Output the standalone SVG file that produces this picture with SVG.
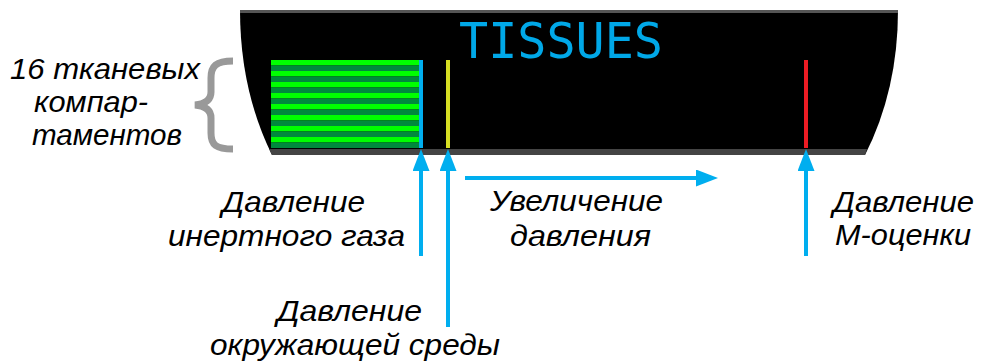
<svg xmlns="http://www.w3.org/2000/svg" width="982" height="363" viewBox="0 0 982 363">
<style>
.lbl{font-family:"Liberation Sans",Arial,sans-serif;font-style:italic;font-size:29px;fill:#000}
.arr{stroke:#00aeef;stroke-width:4;fill:none}
</style>
<defs>
<pattern id="stripes" patternUnits="userSpaceOnUse" x="0" y="60" width="10" height="11">
<rect x="0" y="0" width="10" height="5.5" fill="#00ff00"/>
<rect x="0" y="5.5" width="10" height="5.5" fill="#00893d"/>
</pattern>
<marker id="ah" markerUnits="userSpaceOnUse" viewBox="0 0 22 17" markerWidth="22" markerHeight="17" refX="1" refY="8.5" orient="auto">
<path d="M0,0 L22,8.5 L0,17 Z" fill="#00aeef"/>
</marker>
</defs>
<rect width="982" height="363" fill="#fff"/>
<g id="screen">
<path d="M240,10 L898,10 Q898,90 865,155 L272,155 Q240,90 240,10 Z" fill="#000"/>
<rect x="240" y="10" width="658" height="3" fill="#555"/>
<path d="M269,149 L867,149 L865,155 L272,155 Z" fill="#444"/>
<text x="459" y="58" font-family="'DejaVu Sans Mono',monospace" font-size="50" fill="#00a8e8" textLength="204" lengthAdjust="spacingAndGlyphs">TISSUES</text>
</g>
<g id="compartments">
<rect x="271" y="60" width="148" height="88" fill="url(#stripes)"/>
</g>
<g id="inert-bar"><rect x="419" y="60" width="4" height="88" fill="#00aeef"/></g>
<g id="ambient-bar"><rect x="446" y="60" width="4" height="88" fill="#d6de23"/></g>
<g id="m-bar"><rect x="804" y="60" width="4" height="88" fill="#ed1c24"/></g>
<g id="brace">
<path d="M233,61 C216,61 211,66 211,78 L211,92 C211,100 205,104 195,105 C205,106 211,110 211,118 L211,133 C211,145 216,149 233,149" fill="none" stroke="#999" stroke-width="7"/>
</g>
<g id="label-compartments" class="lbl">
<text x="10" y="79" textLength="190" lengthAdjust="spacingAndGlyphs">16 тканевых</text>
<text x="34" y="112" textLength="114" lengthAdjust="spacingAndGlyphs">компар-</text>
<text x="32" y="145" textLength="150" lengthAdjust="spacingAndGlyphs">таментов</text>
</g>
<g id="label-inert" class="lbl">
<text x="222" y="212" textLength="143" lengthAdjust="spacingAndGlyphs">Давление</text>
<text x="168" y="246" textLength="237" lengthAdjust="spacingAndGlyphs">инертного газа</text>
</g>
<g id="label-increase" class="lbl">
<text x="490" y="211" textLength="173" lengthAdjust="spacingAndGlyphs">Увеличение</text>
<text x="510" y="246" textLength="141" lengthAdjust="spacingAndGlyphs">давления</text>
</g>
<g id="label-m" class="lbl">
<text x="833" y="212" textLength="141" lengthAdjust="spacingAndGlyphs">Давление</text>
<text x="835" y="245" textLength="136" lengthAdjust="spacingAndGlyphs">М-оценки</text>
</g>
<g id="label-ambient" class="lbl">
<text x="277" y="321" textLength="145" lengthAdjust="spacingAndGlyphs">Давление</text>
<text x="210" y="355" textLength="290" lengthAdjust="spacingAndGlyphs">окружающей среды</text>
</g>
<g id="connectors">
<path class="arr" d="M421,256 V170" marker-end="url(#ah)"/>
<path class="arr" d="M448,327 V170" marker-end="url(#ah)"/>
<path class="arr" d="M806,256 V170" marker-end="url(#ah)"/>
<path class="arr" d="M465,178 H697" marker-end="url(#ah)"/>
</g>
</svg>
